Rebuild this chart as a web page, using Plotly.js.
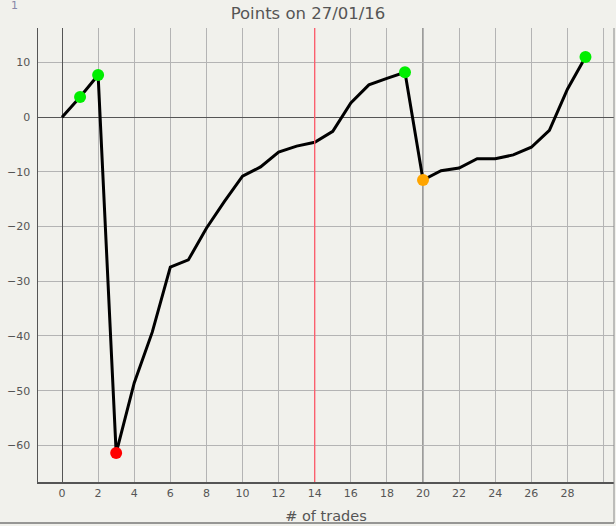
<!DOCTYPE html>
<html><head><meta charset="utf-8">
<script src="https://cdn.plot.ly/plotly-3.0.1.min.js"></script>
<style>html,body{margin:0;padding:0;background:#f1f1ec;}</style>
</head><body><div id="chart" style="width:616px;height:526px;"></div>
<script>
const trades = [0,1,2,3,4,5,6,7,8,9,10,11,12,13,14,15,16,17,18,19,20,21,22,23,24,25,26,27,28,29];
const points = [0,3.7,7.7,-61.4,-48.6,-39.3,-27.4,-26.1,-20.3,-15.4,-10.8,-9.1,-6.4,-5.3,-4.6,-2.6,2.6,5.9,7.1,8.2,-11.5,-9.8,-9.3,-7.6,-7.6,-6.9,-5.5,-2.4,5.1,11.0];
const greenX = [1,2,19,29];
const redX = [3];
const orangeX = [20];
const markLine = 14;
const darkLine = 20;
const titleText = "Points on 27/01/16";
const xTitle = "# of trades";
const xTickVals = [0,2,4,6,8,10,12,14,16,18,20,22,24,26,28];
const pick = xs => xs.map(x => points[trades.indexOf(x)]);

const font = "Tahoma, 'DejaVu Sans', Verdana, sans-serif";
const traces = [
  {x: trades, y: points, mode: 'lines', line: {color: '#000', width: 3}, hoverinfo: 'skip'},
  {x: greenX, y: pick(greenX), mode: 'markers', marker: {color: '#00ee00', size: 12}},
  {x: redX, y: pick(redX), mode: 'markers', marker: {color: '#ff0000', size: 12}},
  {x: orangeX, y: pick(orangeX), mode: 'markers', marker: {color: '#ffa500', size: 12}}
];
const layout = {
  width: 616, height: 526,
  margin: {l: 38, r: 2, t: 28, b: 44},
  paper_bgcolor: '#f1f1ec', plot_bgcolor: '#f1f1ec',
  showlegend: false,
  font: {family: font, color: '#555', size: 11},
  title: {text: titleText, x: 0.5, xanchor: 'center', y: 0.975, yanchor: 'middle', font: {family: font, size: 16.5, color: '#555'}},
  xaxis: {range: [-1.33, 30.58], showgrid: true, gridcolor: '#b4b4b4', gridwidth: 1,
    zeroline: true, zerolinecolor: '#555', zerolinewidth: 1,
    showline: true, linecolor: '#555', linewidth: 1.5, ticks: '', ticklabelstandoff: 0,
    tickvals: xTickVals,
    title: {text: xTitle, font: {family: font, size: 14.5, color: '#555'}, standoff: 12}},
  yaxis: {range: [-66.7, 16.3], tick0: 0, dtick: 10, showgrid: true, gridcolor: '#b4b4b4', gridwidth: 1,
    zeroline: true, zerolinecolor: '#555', zerolinewidth: 1,
    showline: true, linecolor: '#555', linewidth: 1.5, ticks: '', ticklabelstandoff: 4},
  shapes: [
    {type: 'line', xref: 'x', yref: 'paper', x0: 30, x1: 30, y0: 0, y1: 1, line: {color: '#b4b4b4', width: 1}, layer: 'between'},
    {type: 'line', xref: 'x', yref: 'paper', x0: darkLine, x1: darkLine, y0: 0, y1: 1, line: {color: '#444', width: 1}, layer: 'between'},
    {type: 'line', xref: 'x', yref: 'paper', x0: markLine, x1: markLine, y0: 0, y1: 1, line: {color: '#ff5a6a', width: 1.3}, layer: 'above'},
    {type: 'line', xref: 'paper', yref: 'paper', x0: 1, x1: 1, y0: -0.0903, y1: 1, line: {color: '#888', width: 1}, layer: 'above'},
    {type: 'line', xref: 'paper', yref: 'paper', x0: -0.07, x1: 1, y0: -0.0903, y1: -0.0903, line: {color: '#777', width: 1.5}, layer: 'above'}
  ],
  annotations: [
    {text: '1', xref: 'paper', yref: 'paper', x: -0.04, y: 1.05, xanchor: 'center', yanchor: 'middle', showarrow: false, font: {family: font, size: 11, color: '#8888a8'}}
  ]
};
Plotly.newPlot('chart', traces, layout, {displayModeBar: false, staticPlot: true});
</script></body></html>
